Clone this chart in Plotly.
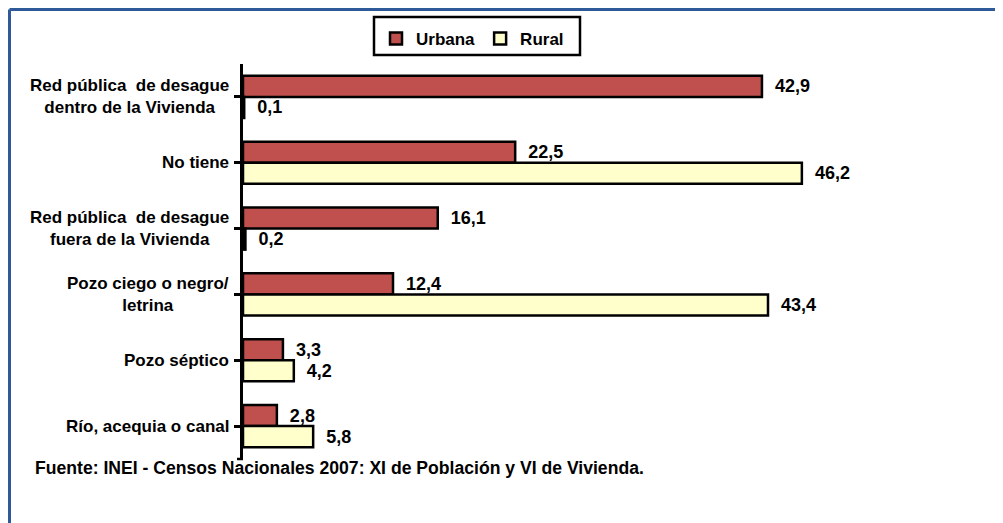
import plotly.graph_objects as go

categories = [
    "Red pública  de desague<br>dentro de la Vivienda",
    "No tiene",
    "Red pública  de desague<br>fuera de la Vivienda",
    "Pozo ciego o negro/<br>letrina",
    "Pozo séptico",
    "Río, acequia o canal",
]
urbana = [42.9, 22.5, 16.1, 12.4, 3.3, 2.8]
rural = [0.1, 46.2, 0.2, 43.4, 4.2, 5.8]
series_names = ["Urbana", "Rural"]
source_text = "Fuente: INEI - Censos Nacionales 2007: XI de Población y VI de Vivienda."

FONT = "Liberation Sans, Arial, sans-serif"
ids = list(range(len(categories)))

PW, PH = 750, 395  # plot area size in px

fig = go.Figure()
fig.add_trace(go.Bar(
    y=ids, x=urbana, name=series_names[0], orientation="h",
    marker=dict(color="#C0504D", line=dict(color="black", width=2.5)),
    texttemplate="  %{x:.1f}", textposition="outside", cliponaxis=False,
    textfont=dict(family=FONT, size=18, color="black", weight="bold"),
))
fig.add_trace(go.Bar(
    y=ids, x=rural, name=series_names[1], orientation="h",
    marker=dict(color="#FFFFCC", line=dict(color="black", width=2.5)),
    texttemplate="  %{x:.1f}", textposition="outside", cliponaxis=False,
    textfont=dict(family=FONT, size=18, color="black", weight="bold"),
))

annotations = []
for i, c in enumerate(categories):
    annotations.append(dict(
        x=0, xref="paper", y=i, yref="y", text=c, showarrow=False,
        xanchor="right", yanchor="middle", align="center", xshift=-12,
        font=dict(family=FONT, size=17, color="black", weight="bold"),
    ))
annotations.append(dict(
    x=-210 / PW, xref="paper", y=-0.022, yref="paper", text=source_text,
    showarrow=False, xanchor="left", yanchor="middle",
    font=dict(family=FONT, size=17.6, color="black", weight="bold"),
))

shapes = [
    # outer frame (top and left edges)
    dict(type="line", xref="paper", yref="paper", x0=-233.5 / PW, x1=1.05,
         y0=1 + 54.5 / PH, y1=1 + 54.5 / PH, line=dict(color="#2E5A9A", width=3)),
    dict(type="line", xref="paper", yref="paper", x0=-233.5 / PW, x1=-233.5 / PW,
         y0=1 + 54.5 / PH, y1=-0.3, line=dict(color="#2E5A9A", width=3)),
    # legend box
    dict(type="rect", xref="paper", yref="paper", x0=131 / PW, x1=337 / PW,
         y0=1 + 9 / PH, y1=1 + 47 / PH, line=dict(color="black", width=2.5),
         fillcolor="rgba(0,0,0,0)"),
    # bottom end tick of the category axis
    dict(type="line", xref="paper", yref="paper", x0=-6 / PW, x1=0,
         y0=0, y1=0, line=dict(color="black", width=2.5)),
]

fig.update_layout(
    width=995, height=515,
    margin=dict(l=235, r=10, t=56, b=64),
    paper_bgcolor="white", plot_bgcolor="white",
    barmode="group", bargap=0.36, bargroupgap=0,
    separators=", ",
    showlegend=True,
    legend=dict(
        orientation="h", x=0.306, xanchor="center", y=1 + 7 / PH, yanchor="bottom",
        borderwidth=0, bgcolor="rgba(0,0,0,0)",
        font=dict(family=FONT, size=17, color="black", weight="bold"),
        itemwidth=30,
    ),
    xaxis=dict(range=[0, 62], visible=False),
    yaxis=dict(
        autorange=False, range=[len(categories) - 0.5, -0.5],
        showticklabels=False, showline=True, linecolor="black", linewidth=2.5,
        ticks="outside", ticklen=6, tickwidth=2.5, tickcolor="black",
        tickvals=ids, showgrid=False, zeroline=False,
    ),
    annotations=annotations, shapes=shapes,
)

fig.write_html("out.html")
